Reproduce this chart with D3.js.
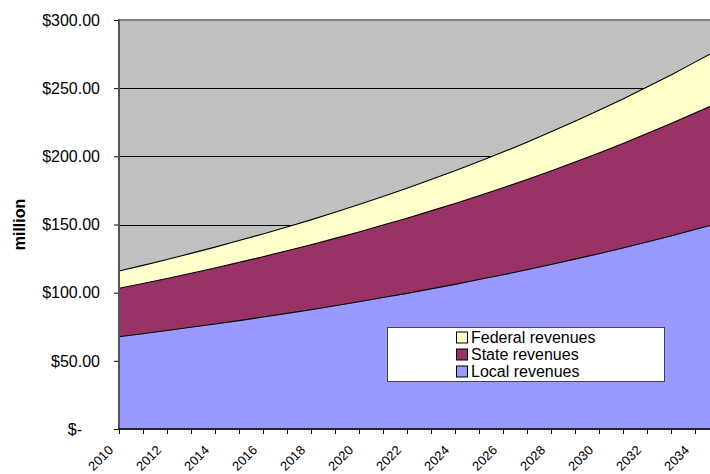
<!DOCTYPE html>
<html>
<head>
<meta charset="utf-8">
<script src="https://cdn.jsdelivr.net/npm/d3@7/dist/d3.min.js"></script>
<style>
  html, body { margin: 0; padding: 0; background: #ffffff; }
  svg { display: block; }
  text { font-family: "Liberation Sans", Arial, sans-serif; fill: #000; }
</style>
</head>
<body>
<svg id="chart" width="710" height="474"></svg>
<script>
// ---- Data ----
const years = [2010,2011,2012,2013,2014,2015,2016,2017,2018,2019,2020,2021,2022,2023,2024,2025,2026,2027,2028,2029,2030,2031,2032,2033,2034,2035];
const localRevenues   = [67.7,69.9,72.2,74.6,77.0,79.5,82.1,84.8,87.5,90.4,93.3,96.4,99.5,102.8,106.1,109.6,113.1,116.8,120.6,124.6,128.6,132.8,137.2,141.6,146.3,151.0];
const stateRevenues   = [35.5,36.8,38.2,39.6,41.1,42.7,44.3,45.9,47.6,49.4,51.2,53.2,55.1,57.2,59.3,61.5,63.8,66.2,68.7,71.2,73.9,76.6,79.5,82.4,85.5,88.6];
const federalRevenues = [12.7,13.3,13.9,14.6,15.3,16.0,16.7,17.5,18.3,19.2,20.1,21.0,22.0,23.0,24.0,25.1,26.2,27.4,28.7,30.0,31.3,32.7,34.2,35.7,37.3,39.0];
const seriesKeys   = ["local", "state", "federal"];
const seriesNames  = {local: "Local revenues", state: "State revenues", federal: "Federal revenues"};
const yTickValues  = [0, 50, 100, 150, 200, 250, 300];
const xLabelYears  = [2010,2012,2014,2016,2018,2020,2022,2024,2026,2028,2030,2032,2034];
const yAxisTitle   = "million";

(function () {
// ---- Build table ----
const table = years.map((yr, i) => ({
  year: yr, local: localRevenues[i], state: stateRevenues[i], federal: federalRevenues[i]
}));

const colors = {local: "#9999FF", state: "#993366", federal: "#FFFFCC"};

const svg = d3.select("#chart");
const pLeft = 119, pTop = 20, pBottom = 429, pRight = 719;

const x = d3.scaleLinear().domain([2010, 2035]).range([pLeft, pRight]);
const y = d3.scaleLinear().domain([0, 300]).range([pBottom, pTop]);

// plot background
svg.append("rect")
  .attr("x", pLeft).attr("y", pTop)
  .attr("width", pRight - pLeft).attr("height", pBottom - pTop)
  .attr("fill", "#C0C0C0");

// gridlines
svg.append("g").selectAll("line")
  .data(yTickValues.filter(v => v > 0 && v < 300))
  .join("line")
  .attr("x1", pLeft).attr("x2", pRight)
  .attr("y1", d => Math.round(y(d)) + 0.5).attr("y2", d => Math.round(y(d)) + 0.5)
  .attr("stroke", "#000").attr("stroke-width", 1);

// stacked areas
const stack = d3.stack().keys(seriesKeys);
const layers = stack(table);

const area = d3.area()
  .x(d => x(d.data.year))
  .y0(d => y(d[0]))
  .y1(d => y(d[1]));
const topLine = d3.line()
  .x(d => x(d.data.year))
  .y(d => y(d[1]));

svg.append("g").selectAll("path")
  .data(layers)
  .join("path")
  .attr("d", area)
  .attr("fill", d => colors[d.key]);

svg.append("g").selectAll("path")
  .data(layers)
  .join("path")
  .attr("d", topLine)
  .attr("fill", "none")
  .attr("stroke", "#000")
  .attr("stroke-width", 1.1);

// top border
svg.append("line")
  .attr("x1", pLeft).attr("x2", pRight)
  .attr("y1", pTop).attr("y2", pTop)
  .attr("stroke", "#808080").attr("stroke-width", 2);

// Y axis
const yAxis = d3.axisLeft(y)
  .tickValues(yTickValues)
  .tickSize(5)
  .tickFormat("");
const yg = svg.append("g").attr("transform", `translate(${pLeft},0)`).call(yAxis);
yg.select(".domain").remove();
yg.selectAll(".tick line").attr("stroke", "#000");
svg.append("line")
  .attr("x1", pLeft).attr("x2", pLeft)
  .attr("y1", pTop - 1).attr("y2", pBottom)
  .attr("stroke", "#555").attr("stroke-width", 2);

svg.append("g").selectAll("text")
  .data(yTickValues)
  .join("text")
  .attr("x", d => d === 0 ? 82 : 100)
  .attr("y", d => y(d))
  .attr("dy", "0.36em")
  .attr("text-anchor", "end")
  .style("font-size", "16px")
  .text(d => d === 0 ? "$-" : "$" + d3.format(".2f")(d));

// X axis
const xAxis = d3.axisBottom(x)
  .tickValues(years)
  .tickSize(5)
  .tickFormat("");
const xg = svg.append("g").attr("transform", `translate(0,${pBottom})`).call(xAxis);
xg.select(".domain").remove();
xg.selectAll(".tick line").attr("stroke", "#000");
svg.append("line")
  .attr("x1", pLeft - 1).attr("x2", pRight)
  .attr("y1", pBottom).attr("y2", pBottom)
  .attr("stroke", "#222").attr("stroke-width", 2);

svg.append("g").selectAll("text")
  .data(xLabelYears)
  .join("text")
  .attr("transform", d => `translate(${x(d) - 5},${pBottom + 22}) rotate(-45)`)
  .attr("text-anchor", "end")
  .style("font-size", "13px")
  .text(d => d);

// Y axis title
svg.append("text")
  .attr("transform", `translate(25,${(pTop + pBottom) / 2}) rotate(-90)`)
  .attr("text-anchor", "middle")
  .style("font-size", "16px")
  .style("font-weight", "bold")
  .text(yAxisTitle);

// Legend
const legend = svg.append("g");
legend.append("rect")
  .attr("x", 387.5).attr("y", 327.5)
  .attr("width", 277).attr("height", 54)
  .attr("fill", "#fff")
  .attr("stroke", "#444").attr("stroke-width", 1);

const legendOrder = ["federal", "state", "local"];
const rows = legend.selectAll("g.item")
  .data(legendOrder)
  .join("g")
  .attr("class", "item")
  .attr("transform", (d, i) => `translate(456,${337.5 + i * 17})`);
rows.append("rect")
  .attr("x", 0.5).attr("y", -5.5)
  .attr("width", 11).attr("height", 11)
  .attr("fill", d => colors[d])
  .attr("stroke", "#000").attr("stroke-width", 1);
rows.append("text")
  .attr("x", 15).attr("y", 0)
  .attr("dy", "0.36em")
  .style("font-size", "16px")
  .text(d => seriesNames[d]);
})();
</script>
</body>
</html>
